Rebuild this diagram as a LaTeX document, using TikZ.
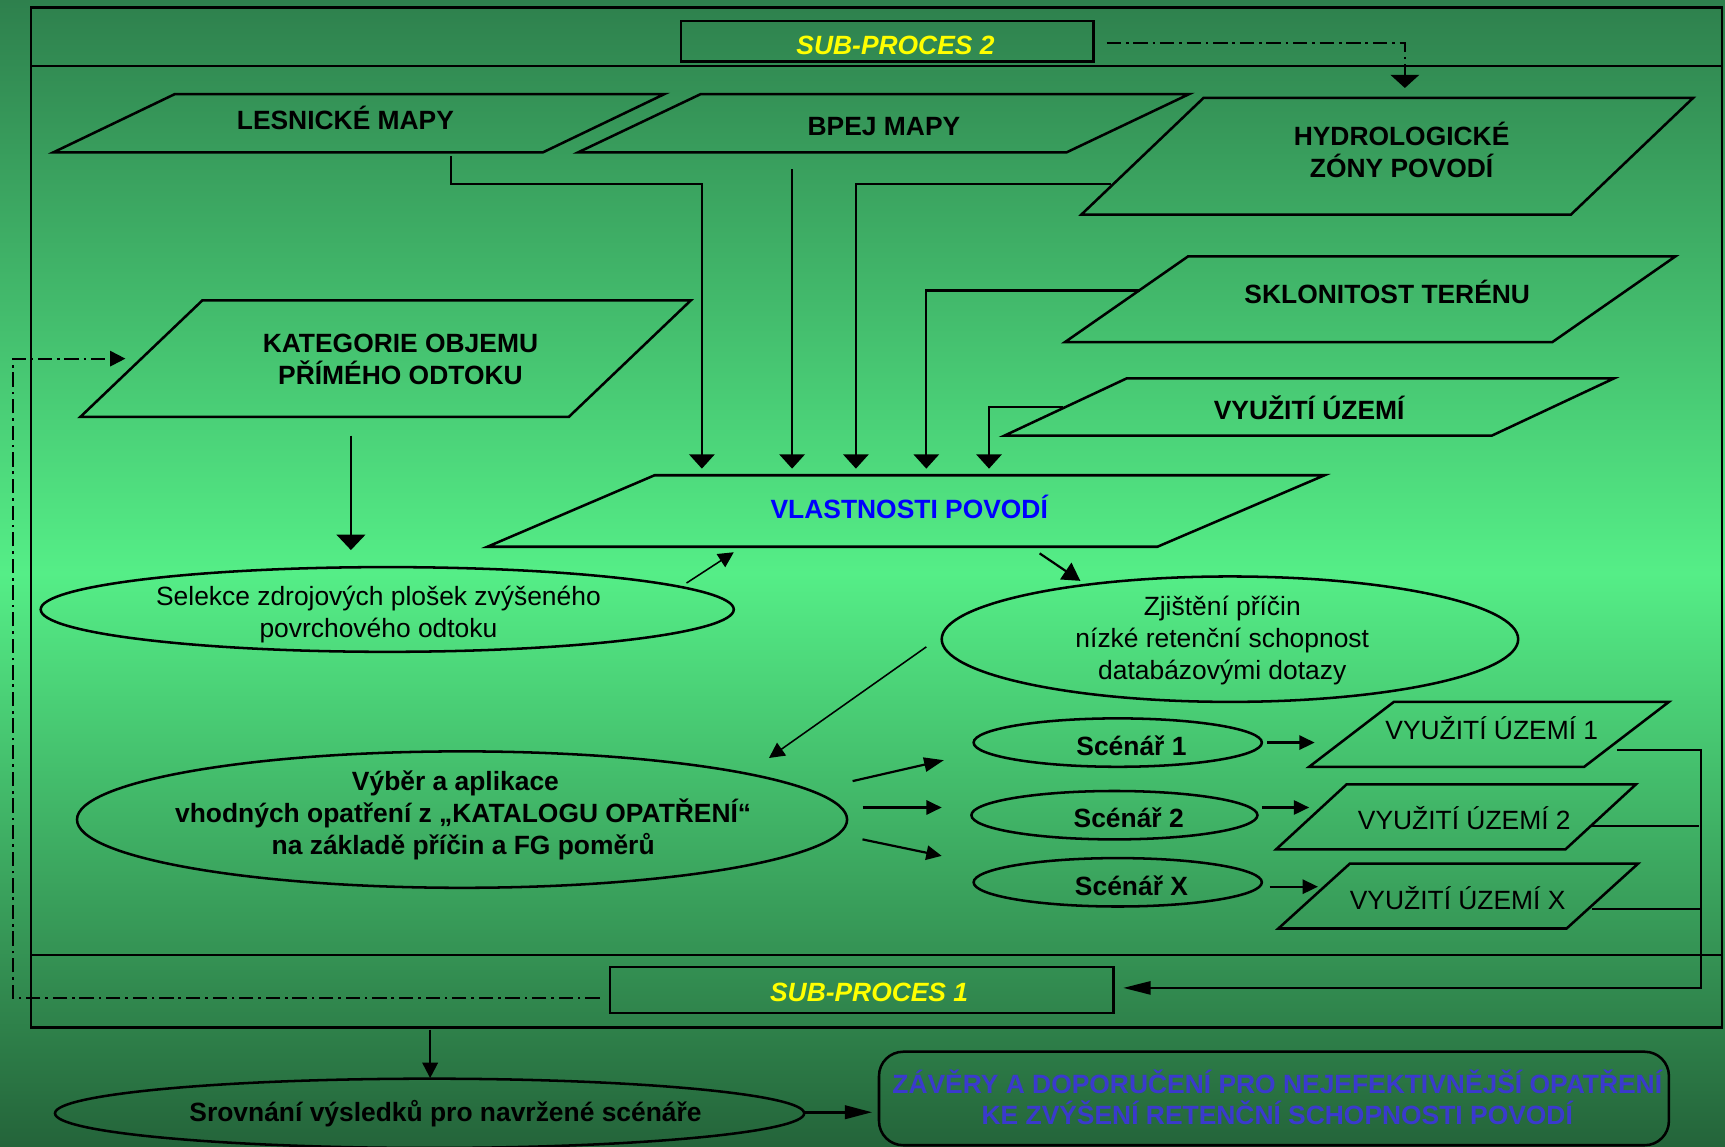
\documentclass[tikz,border=0pt]{standalone}
\usepackage{fontspec}
\setmainfont{Liberation Sans}
\usetikzlibrary{shapes.geometric,arrows.meta}
\definecolor{bgtop}{RGB}{46,128,77}
\definecolor{bgmid}{RGB}{85,238,135}
\definecolor{bgbot}{RGB}{36,100,58}
\definecolor{zblue}{RGB}{58,58,205}
\definecolor{subyel}{RGB}{255,255,0}
\definecolor{vblue}{RGB}{0,0,255}
\newcommand{\pgram}[6]{\draw[shp] (#2,#4) coordinate (#1-tl) -- (#3,#4) coordinate (#1-tr) -- ({#3-#6},#5) coordinate (#1-br) -- ({#2-#6},#5) coordinate (#1-bl) -- cycle;}
\begin{document}
\begin{tikzpicture}[x=0.5pt,y=-0.5pt,
  every node/.style={inner sep=0pt, outer sep=0pt},
  txt/.style={font=\fontsize{12}{14.5}\selectfont, align=center, text height=8.6pt, text depth=0pt},
  bt/.style={txt, font=\fontsize{12}{14.5}\selectfont\bfseries},
  subt/.style={txt, font=\fontsize{12}{14.5}\selectfont\bfseries\itshape, text=subyel},
  shp/.style={draw=black, line width=1.15pt, line join=miter},
  frm/.style={draw=black, line width=1.1pt},
  box/.style={draw=black, line width=1.15pt, rectangle},
  ell/.style={draw=black, line width=1.15pt, ellipse},
  con/.style={draw=black, line width=1pt},
  thn/.style={draw=black, line width=0.7pt},
  dd/.style={draw=black, line width=0.9pt, dash pattern=on 6.5pt off 2.2pt on 1.2pt off 2.2pt},
  hA/.style={-{Triangle[length=6.5pt,width=11.5pt]}},
  hM/.style={-{Triangle[length=7pt,width=7pt]}},
  hS/.style={-{Triangle[length=7pt,width=6.5pt]}},
  hL/.style={-{Triangle[length=12.5pt,width=6pt]}},
]
\shade[top color=bgtop, bottom color=bgbot, middle color=bgmid] (0,0) rectangle (1568,1042);
\useasboundingbox (0,0) rectangle (1568,1042);

% frame and bands
\draw[frm] (28,7) rectangle (1565,934);
\draw[frm] (28,60) -- (1565,60);
\draw[frm] (28,868) -- (1565,868);

% sub-process boxes
\node[box, minimum width=187.5pt, minimum height=18.5pt] (sp2) at (806.5,37.5) {};
\node[subt] (sp2t) at (814,41) {SUB-PROCES 2};
\node[box, minimum width=228.75pt, minimum height=21pt] (sp1) at (783.25,900) {};
\node[subt] (sp1t) at (790,902) {SUB-PROCES 1};

% parallelograms
\pgram{les}{159}{604}{85.5}{138.5}{110.5}
\pgram{bpej}{637}{1081}{85.5}{138.5}{111.5}
\pgram{hyd}{1094}{1539}{89}{195}{111}
\pgram{skl}{1080}{1523}{233}{311}{112}
\pgram{vyu}{1024}{1467}{344}{396}{111}
\pgram{kat}{184}{628}{273}{379}{111}
\pgram{vla}{595}{1204}{432}{497}{152}
\pgram{vua}{1267}{1517}{638}{697}{77}
\pgram{vub}{1224}{1487}{713}{772}{64}
\pgram{vux}{1227}{1489}{785}{844}{65}

\node[bt] (lesT) at (314,109) {LESNICKÉ MAPY};
\node[bt] (bpejT) at (803.5,115) {BPEJ MAPY};
\node[bt] (hydT) at (1274,153) {HYDROLOGICKÉ\\ZÓNY POVODÍ};
\node[bt] (sklT) at (1261,267) {SKLONITOST TERÉNU};
\node[bt] (vyuT) at (1190,373) {VYUŽITÍ ÚZEMÍ};
\node[bt] (katT) at (364,341) {KATEGORIE OBJEMU\\PŘÍMÉHO ODTOKU};
\node[bt, text=vblue] (vlaT) at (826.5,463) {VLASTNOSTI POVODÍ};
\node[txt] (vuaT) at (1356,664) {VYUŽITÍ ÚZEMÍ 1};
\node[txt] (vubT) at (1331,745) {VYUŽITÍ ÚZEMÍ 2};
\node[txt] (vuxT) at (1325,818) {VYUŽITÍ ÚZEMÍ X};

% ellipses
\node[ell, minimum width=315pt, minimum height=38.5pt] (sel) at (352,554) {};
\node[txt] (selT) at (344,571) {Selekce zdrojových plošek zvýšeného\\povrchového odtoku};
\node[ell, minimum width=262pt, minimum height=57pt] (zji) at (1118,581) {};
\node[txt] (zjiT) at (1111,609) {Zjištění příčin\\nízké retenční schopnost\\databázovými dotazy};
\node[ell, minimum width=350pt, minimum height=62pt] (vyb) at (420,745) {};
\node[bt] (vybT) at (421,768) {Výběr a aplikace\hspace*{7pt}\\vhodných opatření z „KATALOGU OPATŘENÍ“\\na základě příčin a FG poměrů};
\node[ell, minimum width=131pt, minimum height=22pt] (sca) at (1016,675) {};
\node[bt] (scaT) at (1028.5,678) {Scénář 1};
\node[ell, minimum width=130pt, minimum height=22pt] (scb) at (1013,741) {};
\node[bt] (scbT) at (1026,744) {Scénář 2};
\node[ell, minimum width=131pt, minimum height=22pt] (scx) at (1016,802) {};
\node[bt] (scxT) at (1028.5,805) {Scénář X};
\node[ell, minimum width=340.5pt, minimum height=31.5pt] (srv) at (390.5,1012) {};
\node[bt] (srvT) at (405,1011) {Srovnání výsledků pro navržené scénáře};

% conclusion box
\node[box, rounded corners=11pt, minimum width=359pt, minimum height=42.5pt] (zav) at (1158,998.5) {};
\node[bt, text=zblue] (zavT) at (1161,1014) {ZÁVĚRY A DOPORUČENÍ PRO NEJEFEKTIVNĚJŠÍ OPATŘENÍ\\KE ZVÝŠENÍ RETENČNÍ SCHOPNOSTI POVODÍ};

% connector end points
\coordinate (c1) at (1006,39);   \coordinate (c1e) at (1277,80);
\coordinate (c2) at (545,907);   \coordinate (c2m) at (11.5,907); \coordinate (c2e) at (114,326);
\coordinate (l0) at (410,142);   \coordinate (lm) at (410,167); \coordinate (l1) at (638,426);
\coordinate (b0) at (720,154);   \coordinate (b1) at (720,426);
\coordinate (h0) at (1010,167);  \coordinate (h1) at (778,426);
\coordinate (s0) at (1036,264);  \coordinate (s1) at (842,426);
\coordinate (v0) at (966,370);   \coordinate (v1) at (899,426);
\coordinate (k0) at (319,396);   \coordinate (k1) at (319,500);
\coordinate (se0) at (624,530);  \coordinate (se1) at (667,502);
\coordinate (vl0) at (945,503);  \coordinate (vl1) at (982,528);
\coordinate (zj0) at (842,588);  \coordinate (zj1) at (699,689);
\coordinate (y10) at (775,710);  \coordinate (y11) at (858,691);
\coordinate (y20) at (784,734);  \coordinate (y21) at (856,734);
\coordinate (y30) at (784,763);  \coordinate (y31) at (856,778);
\coordinate (a10) at (1152,675); \coordinate (a11) at (1195,675);
\coordinate (a20) at (1147,734); \coordinate (a21) at (1190,734);
\coordinate (a30) at (1154,806); \coordinate (a31) at (1198,806);
\coordinate (r1) at (1470,682);  \coordinate (rc) at (1546,682); \coordinate (rb) at (1546,898); \coordinate (re) at (1021,898);
\coordinate (r2) at (1445,751);  \coordinate (r2e) at (1544,751);
\coordinate (r3) at (1447,826);  \coordinate (r3e) at (1546,826);
\coordinate (o0) at (391,936);   \coordinate (o1) at (391,980);
\coordinate (sr0) at (731,1011); \coordinate (sr1) at (793,1011);

% connectors
\draw[dd, -{Triangle[length=6pt,width=13pt]}] (c1) -| (c1e);
\draw[dd, hM] (c2) -- (c2m) |- (c2e);
\draw[con, hA] (l0) -- (lm) -| (l1);
\draw[con, hA] (b0) -- (b1);
\draw[con, hA] (h0) -| (h1);
\draw[con, hA] (s0) -| (s1);
\draw[con, hA] (v0) -| (v1);
\draw[con, -{Triangle[length=7pt,width=13pt]}] (k0) -- (k1);
\draw[thn, hM] (se0) -- (se1);
\draw[con, -{Triangle[length=8pt,width=9pt]}] (vl0) -- (vl1);
\draw[thn, hM] (zj0) -- (zj1);
\draw[con, -{Triangle[length=9pt,width=6.5pt]}] (y10) -- (y11);
\draw[con, hS] (y20) -- (y21);
\draw[con, hS] (y30) -- (y31);
\draw[con, hS] (a10) -- (a11);
\draw[con, hS] (a20) -- (a21);
\draw[con, hS] (a30) -- (a31);
\draw[con, hL] (r1) -- (rc) -- (rb) -- (re);
\draw[con] (r2) -- (r2e);
\draw[con] (r3) -- (r3e);
\draw[con, hM] (o0) -- (o1);
\draw[con, line width=1.5pt, -{Triangle[length=12.5pt,width=6pt]}] (sr0) -- (sr1);
\end{tikzpicture}
\end{document}
